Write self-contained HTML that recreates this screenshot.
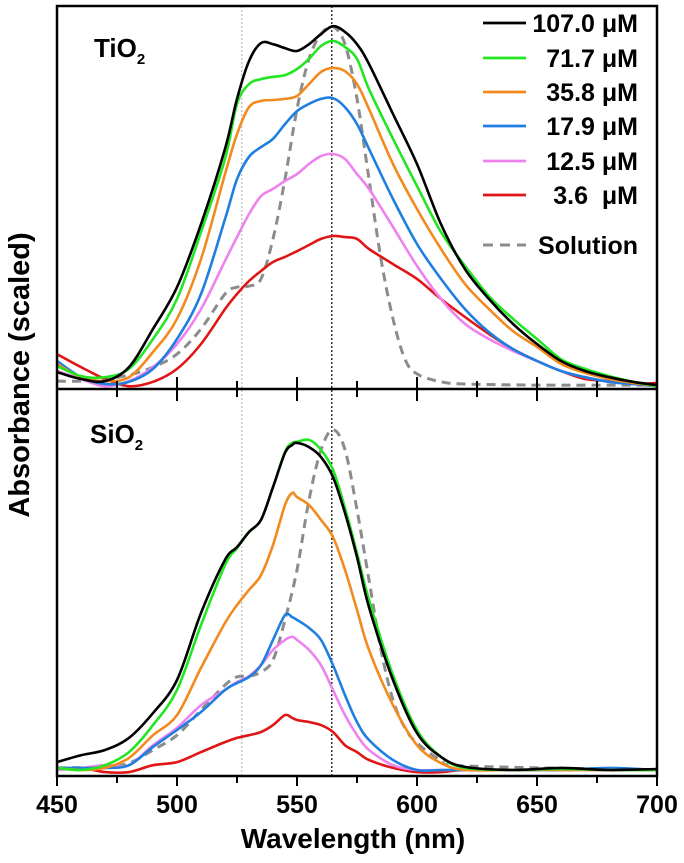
<!DOCTYPE html>
<html><head><meta charset="utf-8"><style>
html,body{margin:0;padding:0;background:#fff;}
svg{display:block;font-family:"Liberation Sans",Arial,sans-serif;font-weight:bold;}
</style></head><body>
<svg id="chart" width="684" height="863" viewBox="0 0 684 863">
<g id="plot"></g>
</svg>
<script>
// ---------- data ----------
const topWl = [450,460,470,480,490,500,510,520,525,530,535,540,545,550,555,560,565,570,575,580,590,600,610,620,630,640,650,660,670,680,690,700];
const topBlack  = [3.3,1.4,0.8,4.7,15.3,26.9,44.4,65.3,79.2,89.7,94.7,94.4,93.3,92.5,94.4,97.2,99.4,97.8,94.4,88.9,75,61.1,44.4,31.9,23.6,16.7,11.1,6.4,3.6,1.9,0.6,-0.3];
const topGreen  = [5,2.2,1.9,4.2,12.5,23.6,42.2,62.5,77.8,83.3,84.7,85.3,85.8,87.5,90.3,93.9,95.3,93.6,90.3,81.9,68.1,55,42.2,32.8,24.4,18.1,12.5,6.9,4.2,2.2,0.6,-0.6];
const topOrange = [5.6,1.9,0.8,1.9,8.9,18.1,34.7,58.3,69.4,76.9,78.6,78.9,79.2,80,83.3,86.7,87.8,86.9,83.3,76.4,61.1,48.6,37.5,27.8,20.8,14.7,10.3,5.6,3.1,1.4,0.3,-0.6];
const topBlue   = [6.4,1.9,0,0.6,4.2,12.5,25,45.8,56.9,63.1,65.8,68.1,72.2,75.8,77.8,79.2,79.4,76.9,72.2,65.3,51.4,38.9,29.2,20.8,14.4,9.7,6.4,3.6,1.9,0.6,0,-0.6];
const topPink   = [3.6,1.4,-0.6,0.8,4.7,11.1,20.8,34.2,40.8,47.2,52.2,54.2,56.4,58.3,61.1,63.3,63.9,62.5,58.3,54.2,43.6,32.8,23.6,16.7,12.5,9.2,6.4,3.6,1.9,0.6,0,-0.6];
const topRed    = [8.3,4.7,1.4,-0.6,0.6,4.2,11.1,20.8,25,28.6,31.4,33.9,35.3,36.9,38.6,40.3,41.1,40.8,40.3,37.5,33.3,29.2,23.6,18.6,13.9,9.7,6.4,3.6,1.4,0.8,0,0.3];
const topSolWl  = [450,460,470,480,490,500,510,520,525,530,535,540,545,550,555,560,565,570,575,580,585,590,595,600,610,620,650,700];
const topSol    = [0.8,0.8,1.4,2.5,4.7,8.3,15.3,25,26.9,27.2,29.2,40.3,56.9,76.4,90.3,97.2,99.2,94.4,79.2,56.9,34.7,18.1,6.9,2.8,0.6,0,-0.3,-0.3];

const botWl = [450,460,470,480,490,500,510,520,525,530,535,540,545,548,550,555,560,565,570,575,580,590,600,610,620,640,660,680,700];
const botBlack  = [2.3,4.3,5.8,9.3,16.5,26.1,45.5,60.9,64.6,69,72.5,82,91.9,94.2,94.8,93.6,90.7,84.9,74.5,61.7,47.2,26.1,10.7,3.8,0.9,0,0.6,0,0.3];
const botGreen  = [0.6,0,1.4,5.2,13,23.2,42,59.4,64.3,69,72.5,82,92.2,94.8,95.1,95.7,92.8,87,75.9,62.9,49.3,27.5,11.6,3.8,0.6,0,0.3,0,0];
const botOrange = [0.6,0,0.6,3.5,10.1,15.9,29.6,42.6,47.8,52.2,56.5,65.2,76.8,80.3,79.1,76.8,72.5,67.5,58,46.4,34.8,18.8,7.2,2,0,0,0,0,0];
const botBlue   = [0.6,0.6,0.6,1.4,6.7,11.6,16.8,23.2,25.2,27,30.4,37.7,44.9,44.3,43.5,41.2,37.7,30.4,21.7,13.9,8.7,2.9,0,0,0,0,0,0.6,0];
const botPink   = [0,0.6,1.4,1.4,7.2,12.2,18.8,23.2,25.5,27.2,30.4,34.8,37.7,38.6,37.7,34.8,30.4,23.2,15.9,10.1,5.8,1.4,0,0,0,0,0,0,0];
const botRed    = [0,0.6,-0.6,-0.6,1.4,2.3,5.2,8.1,9.3,10.1,11,13,15.9,15.1,14.5,13.9,13,11,7.2,5.2,2.9,0.6,-0.6,-0.6,0,0,0,0,0];
const botSolWl  = [450,470,480,490,500,510,520,525,530,535,540,545,550,555,560,565,570,575,580,585,590,595,600,610,620,700];
const botSol    = [0.6,0.9,2,5.8,10.1,17.4,24.6,27,27.2,28.4,31.9,43.5,58,78.3,92.8,98.6,92.8,75.4,55.1,34.8,20.3,12.2,7.8,2.9,1.2,0];

const xTicks = [450,500,550,600,650,700];
const xMinor = [475,525,575,625,675];
const legendLabels = ["107.0 \u03bcM","71.7 \u03bcM","35.8 \u03bcM","17.9 \u03bcM","12.5 \u03bcM","3.6  \u03bcM","Solution"];
const refLines = [527, 564.5];

// ---------- axes ----------
const L=57, R=657, T=6, MID=389, B=776;
const x = nm => L + (nm-450)*(R-L)/250;
const yTop = v => 384 - v*3.6;
const yBot = v => 770 - v*3.45;
const NS="http://www.w3.org/2000/svg";
const plot=document.getElementById('plot');
function mk(tag, attrs, parent){const e=document.createElementNS(NS,tag);for(const k in attrs)e.setAttribute(k,attrs[k]);(parent||plot).appendChild(e);return e;}
function pathD(xs, ys){
  const p=xs.map((w,i)=>[x(w),ys[i]]);
  let d='M'+p[0][0].toFixed(1)+','+p[0][1].toFixed(1);
  for(let i=0;i<p.length-1;i++){
    const p0=p[i-1]||p[i],p1=p[i],p2=p[i+1],p3=p[i+2]||p2;
    const c1x=p1[0]+(p2[0]-p0[0])/6,c1y=p1[1]+(p2[1]-p0[1])/6;
    const c2x=p2[0]-(p3[0]-p1[0])/6,c2y=p2[1]-(p3[1]-p1[1])/6;
    d+='C'+c1x.toFixed(1)+','+c1y.toFixed(1)+' '+c2x.toFixed(1)+','+c2y.toFixed(1)+' '+p2[0].toFixed(1)+','+p2[1].toFixed(1);
  }
  return d;
}
const colors={black:'#000',green:'#22e622',orange:'#f28a1e',blue:'#1e7fe0',pink:'#ee82ee',red:'#e01616',sol:'#8c8c8c'};

let e;
e=mk('line',{x1:x(refLines[0]),x2:x(refLines[0]),y1:T,y2:B,stroke:'#aaa','stroke-width':1,'stroke-dasharray':'2,2'});


e=mk('line',{x1:x(refLines[1]),x2:x(refLines[1]),y1:T,y2:B,stroke:'#000','stroke-width':1.2,'stroke-dasharray':'2,2'});



const cp=mk('clipPath',{id:'clipTop'});mk('rect',{x:L,y:T,width:R-L,height:MID-T},cp);
const cb=mk('clipPath',{id:'clipBot'});mk('rect',{x:L,y:MID,width:R-L,height:B-MID},cb);
function series(name, xs, vs, yf, col, clip, dashed){
  const el=mk('path',{d:pathD(xs,vs.map(yf)),fill:'none',stroke:col,'stroke-width':dashed?3:2.6,'stroke-linejoin':'round','clip-path':'url(#'+clip+')'});
  if(dashed) el.setAttribute('stroke-dasharray','9,6');
  
  
}
series('tio2-solution-line',topSolWl,topSol,yTop,colors.sol,'clipTop',true);
series('tio2-3.6-line',topWl,topRed,yTop,colors.red,'clipTop');
series('tio2-12.5-line',topWl,topPink,yTop,colors.pink,'clipTop');
series('tio2-17.9-line',topWl,topBlue,yTop,colors.blue,'clipTop');
series('tio2-35.8-line',topWl,topOrange,yTop,colors.orange,'clipTop');
series('tio2-71.7-line',topWl,topGreen,yTop,colors.green,'clipTop');
series('tio2-107-line',topWl,topBlack,yTop,colors.black,'clipTop');
series('sio2-solution-line',botSolWl,botSol,yBot,colors.sol,'clipBot',true);
series('sio2-3.6-line',botWl,botRed,yBot,colors.red,'clipBot');
series('sio2-12.5-line',botWl,botPink,yBot,colors.pink,'clipBot');
series('sio2-17.9-line',botWl,botBlue,yBot,colors.blue,'clipBot');
series('sio2-35.8-line',botWl,botOrange,yBot,colors.orange,'clipBot');
series('sio2-71.7-line',botWl,botGreen,yBot,colors.green,'clipBot');
series('sio2-107-line',botWl,botBlack,yBot,colors.black,'clipBot');

e=mk('rect',{x:L,y:T,width:R-L,height:B-T,fill:'none',stroke:'#000','stroke-width':2.5});


e=mk('line',{x1:L,x2:R,y1:MID,y2:MID,stroke:'#000','stroke-width':2.5});



xTicks.forEach(t=>{
  e=mk('line',{x1:x(t),x2:x(t),y1:B,y2:B+10,stroke:'#000','stroke-width':2});
  
  
  e=mk('line',{x1:x(t),x2:x(t),y1:MID-12,y2:MID+12,stroke:'#000','stroke-width':2});
  
  
  const tx=mk('text',{x:x(t),y:813,'text-anchor':'middle','font-size':25});
  tx.textContent=t;
  
  
});
xMinor.forEach(t=>{
  e=mk('line',{x1:x(t),x2:x(t),y1:B,y2:B+7,stroke:'#000','stroke-width':2});
  
  
  e=mk('line',{x1:x(t),x2:x(t),y1:MID-8,y2:MID+8,stroke:'#000','stroke-width':2});
  
  
});

const legCols=[colors.black,colors.green,colors.orange,colors.blue,colors.pink,colors.red,colors.sol];
const legY=[23,58,92,126,161,195,245];
legendLabels.forEach((lab,i)=>{
  const g=mk('g',{});
  
  
  const ln=mk('line',{x1:483,x2:526,y1:legY[i],y2:legY[i],stroke:legCols[i],'stroke-width':i==6?3:2.8},g);
  if(i==6) ln.setAttribute('stroke-dasharray','10,7');
  const t=mk('text',{x:638,y:legY[i]+9,'text-anchor':'end','font-size':25},g);
  t.style.whiteSpace='pre';
  t.textContent=lab;
});
</script>
<svg width="684" height="863" style="position:absolute;left:0;top:0">
<text x="94" y="57" font-size="26">TiO<tspan font-size="15" dy="7">2</tspan></text>
<text x="90" y="443" font-size="26">SiO<tspan font-size="15" dy="7">2</tspan></text>
<text x="353" y="848" font-size="28" text-anchor="middle">Wavelength (nm)</text>
<text transform="translate(29,375) rotate(-90)" font-size="29" text-anchor="middle">Absorbance (scaled)</text>
</svg>
</body></html>
